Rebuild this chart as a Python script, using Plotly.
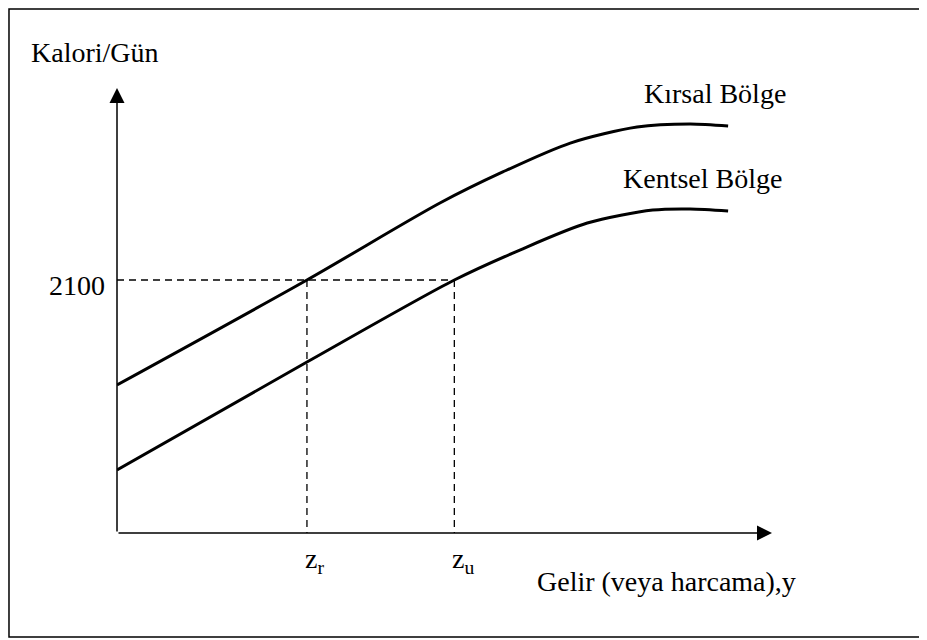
import plotly.graph_objects as go

# income axis (0-100) and calories per day
kirsal_income = [0, 29.0, 49.3, 58.9, 69.2, 79.4, 87.5, 93.3]
kirsal_kcal = [1229, 2100, 2739, 2997, 3237, 3370, 3395, 3378]

kentsel_income = [0, 29.0, 51.5, 61.5, 71.8, 81.8, 87.5, 93.3]
kentsel_kcal = [523, 1419, 2100, 2349, 2573, 2681, 2690, 2673]

threshold = 2100
z_r = 29.0
z_u = 51.5

x_max = 100
y_max = 3694

font = dict(family="Liberation Serif, Times New Roman, serif", size=28, color="black")

fig = go.Figure()

# dashed guide lines
fig.add_trace(
    go.Scatter(
        x=[0, z_u, None, z_r, z_r, None, z_u, z_u],
        y=[threshold, threshold, None, threshold, 0, None, threshold, 0],
        mode="lines",
        line=dict(color="black", width=1.3, dash="7px,5px"),
        hoverinfo="skip"
    )
)

fig.add_trace(
    go.Scatter(
        x=kirsal_income,
        y=kirsal_kcal,
        mode="lines",
        line=dict(color="black", width=3, shape="spline", smoothing=0.8),
        name="Kırsal Bölge"
    )
)

fig.add_trace(
    go.Scatter(
        x=kentsel_income,
        y=kentsel_kcal,
        mode="lines",
        line=dict(color="black", width=3, shape="spline", smoothing=0.8),
        name="Kentsel Bölge"
    )
)

# axes with arrow heads
for tip_x, tip_y in [(x_max, 0), (0, y_max)]:
    fig.add_annotation(
        x=tip_x, y=tip_y, ax=0, ay=0,
        xref="x", yref="y", axref="x", ayref="y",
        text="", showarrow=True,
        arrowhead=2, arrowsize=2, arrowwidth=1.5, arrowcolor="black"
    )

# (text, x, xref, y, yref, xanchor, xshift, yshift)
labels = [
    ("Kalori/Gün", -0.1344, "paper", 1.0787, "paper", "left", 0, 0),
    ("2100", 0, "x", threshold, "y", "right", -10, -5),
    ("z<sub>r</sub>", z_r, "x", -0.0618, "paper", "left", -4, 0),
    ("z<sub>u</sub>", z_u, "x", -0.0618, "paper", "left", -4, 0),
    ("Gelir (veya harcama),y", 63.8, "x", -0.109, "paper", "left", 0, 0),
    ("Kırsal Bölge", 80.2, "x", 3648, "y", "left", 0, 0),
    ("Kentsel Bölge", 76.9, "x", 2943, "y", "left", 0, 0),
]
for text, x, xref, y, yref, anchor, dx, dy in labels:
    fig.add_annotation(
        x=x, y=y, xref=xref, yref=yref, text=text, showarrow=False,
        xanchor=anchor, yanchor="middle", xshift=dx, yshift=dy, font=font
    )

# outer frame
fig.add_shape(
    type="rect", xref="paper", yref="paper",
    x0=-0.1649, x1=1.2275, y0=-0.2337, y1=1.1775,
    line=dict(color="black", width=1.5)
)

fig.update_xaxes(range=[0, x_max], showgrid=False, zeroline=False,
                 showticklabels=False, showline=False)
fig.update_yaxes(range=[0, y_max], showgrid=False, zeroline=False,
                 showticklabels=False, showline=False)

# the page body adds 8px on the left/top, so the figure is 8px smaller
fig.update_layout(
    width=919,
    height=632,
    margin=dict(l=109, r=155, t=80, b=107),
    plot_bgcolor="white",
    paper_bgcolor="white",
    showlegend=False,
    font=font
)

fig.write_html("out.html")
